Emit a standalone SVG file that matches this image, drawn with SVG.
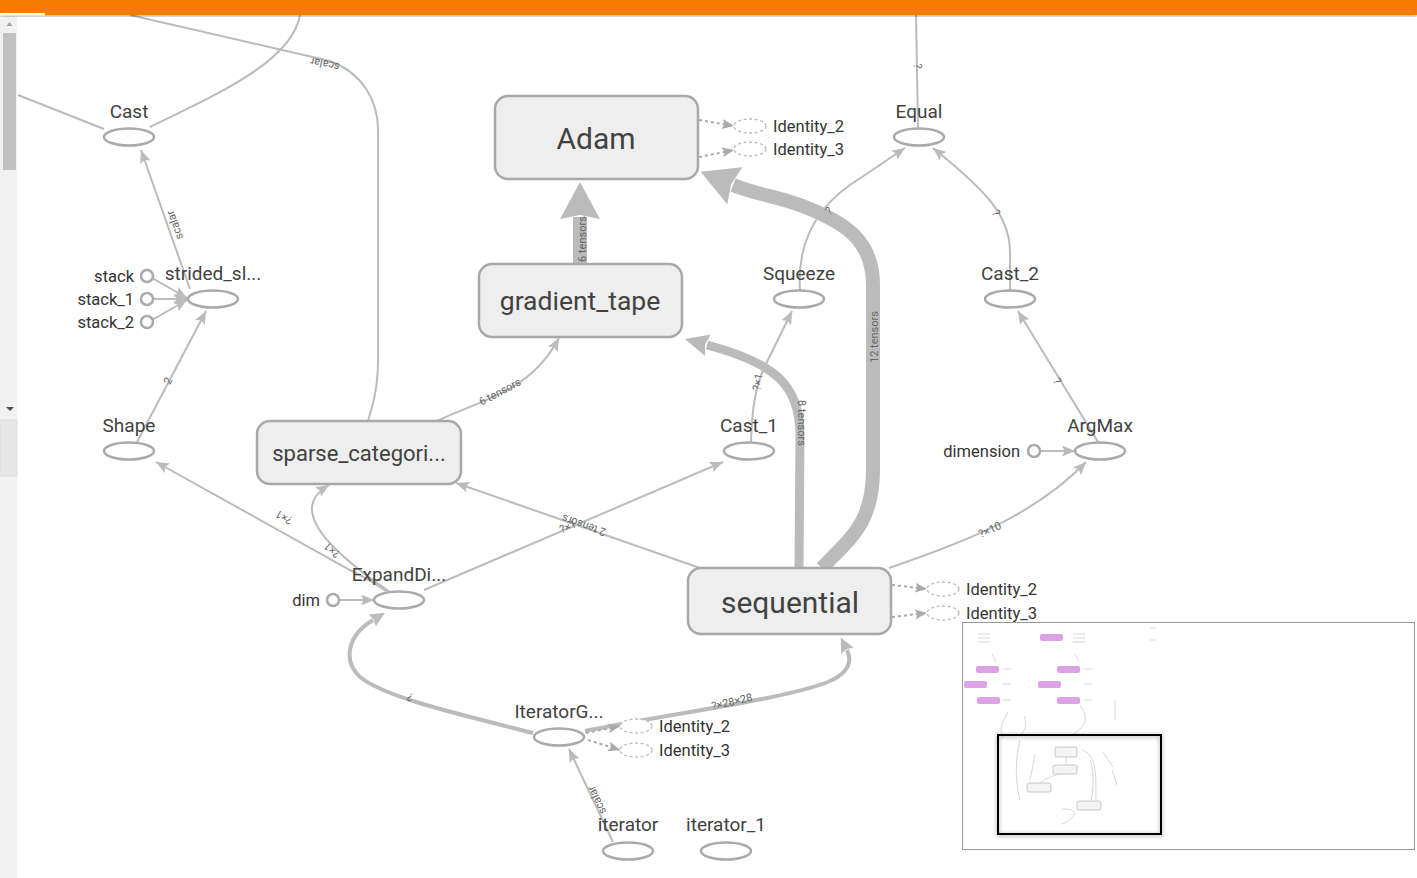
<svg xmlns="http://www.w3.org/2000/svg" width="1417" height="878" viewBox="0 0 1417 878">
<style>
.lbl{font-family:Roboto,"Liberation Sans",sans-serif;font-size:19px;fill:#424242;text-anchor:middle}
.sm{font-family:Roboto,"Liberation Sans",sans-serif;font-size:16.5px;fill:#333}
.el{font-family:Roboto,"Liberation Sans",sans-serif;font-size:11px;fill:#666;text-anchor:middle;dominant-baseline:central}
.big{font-family:Roboto,"Liberation Sans",sans-serif;fill:#424242;text-anchor:middle;dominant-baseline:central}
.op{fill:#fff;stroke:#aaa;stroke-width:2.5}
.cst{fill:#fff;stroke:#aaa;stroke-width:2.5}
.box{fill:#eee;stroke:#a8a8a8;stroke-width:2.5}
.dash{fill:#fff;stroke:#bbb;stroke-width:1.3;stroke-dasharray:3,2.5}
.e{fill:none;stroke:#bbb;stroke-width:2}
.em{fill:none;stroke:#bbb;stroke-width:4}
.de{fill:none;stroke:#aaa;stroke-width:2;stroke-dasharray:3,3}
</style>
<defs>
<marker id="a" viewBox="0 0 13 11" refX="13" refY="5.5" markerWidth="13" markerHeight="11" markerUnits="userSpaceOnUse" orient="auto"><path d="M0,0 L13,5.5 L0,11 L2.5,5.5 z" fill="#bbb"/></marker>
<marker id="ad" viewBox="0 0 12 10" refX="12" refY="5" markerWidth="12" markerHeight="10" markerUnits="userSpaceOnUse" orient="auto"><path d="M0,0 L12,5 L0,10 L2.5,5 z" fill="#aaa"/></marker>
<marker id="am" viewBox="0 0 15 14" refX="1" refY="7" markerWidth="15" markerHeight="14" markerUnits="userSpaceOnUse" orient="auto"><path d="M0,0 L15,7 L0,14 L2,7 z" fill="#bbb"/></marker>
<marker id="a8" viewBox="0 0 24 22" refX="1" refY="11" markerWidth="24" markerHeight="22" markerUnits="userSpaceOnUse" orient="auto"><path d="M0,0 L24,11 L0,22 L3,11 z" fill="#bbb"/></marker>
<marker id="a12" viewBox="0 0 37 40" refX="2" refY="20" markerWidth="37" markerHeight="40" markerUnits="userSpaceOnUse" orient="auto"><path d="M0,0 L37,20 L0,40 L4,20 z" fill="#bbb"/></marker>
<filter id="sh" x="-10%" y="-10%" width="120%" height="120%"><feDropShadow dx="0" dy="1" stdDeviation="2" flood-color="#000" flood-opacity="0.4"/></filter>
</defs>
<rect width="1417" height="878" fill="#fff"/>

<g id="connectors">
<path class="e" d="M18,95 L104,129"/>
<path class="e" d="M300,15 C292,62 215,95 150,127"/>
<path class="e" d="M130,15 L330,61 C362,73 378,100 378,130 L378,360 C378,392 371,410 368,421"/>
<path class="e" d="M916,15 L918,128"/>
<path class="e" marker-end="url(#a)" d="M190,289 L141,150"/>
<path class="e" marker-end="url(#a)" d="M152,278 L187,298"/>
<path class="e" marker-end="url(#a)" d="M153,299 L187,299"/>
<path class="e" marker-end="url(#a)" d="M152,320 L187,300"/>
<path class="e" marker-end="url(#a)" d="M137,442 L206,311"/>
<path class="e" marker-end="url(#a)" d="M386,591 C370,580 360,575 350,570 L156,462"/>
<path class="e" marker-end="url(#a)" d="M390,592 C352,566 310,533 312,507 C313,498 318,492 329,485"/>
<path class="e" marker-end="url(#a)" d="M437,421 C485,398 530,392 559,338"/>
<path class="e" marker-end="url(#a)" d="M424,590 L723,462"/>
<path class="e" marker-end="url(#a)" d="M700,568 L456,483"/>
<path class="e" marker-end="url(#a)" d="M751,442 C752,410 755,388 764,368 L792,311"/>
<path class="e" marker-end="url(#a)" d="M800,290 C797,245 815,205 862,177 L905,148"/>
<path class="e" marker-end="url(#a)" d="M1010,290 L1010,252 C1010,215 985,190 933,148"/>
<path class="e" marker-end="url(#a)" d="M1098,442 L1018,311"/>
<path class="e" marker-end="url(#a)" d="M889,568 C965,542 1035,515 1086,462"/>
<path class="e" marker-end="url(#a)" d="M1040,451 L1075,451"/>
<path class="e" marker-end="url(#a)" d="M339,600 L374,600"/>
<path class="e" marker-end="url(#a)" d="M613,842 L569,749"/>
<path class="em" marker-end="url(#am)" d="M533,733 C450,712 385,697 360,677 C342,660 348,635 373,620"/>
<path class="em" marker-end="url(#am)" d="M585,731 C680,712 780,700 828,682 C850,673 852,660 847,650"/>
<path fill="none" stroke="#bbb" stroke-width="9" marker-end="url(#a8)" d="M799,568 L800,435 C800,385 775,363 707,345"/>
<path fill="none" stroke="#bbb" stroke-width="14" marker-end="url(#a12)" d="M822,568 C848,540 873,525 873,470 L873,285 C873,240 845,222 800,205 C775,196 755,194 733,185"/>
<path fill="none" stroke="#bbb" stroke-width="14" marker-end="url(#a12)" d="M580,264 L580,217"/>
<path class="de" marker-end="url(#ad)" d="M699,120 L734,126"/>
<path class="de" marker-end="url(#ad)" d="M699,157 L734,150"/>
<path class="de" marker-end="url(#ad)" d="M892,585 L927,589"/>
<path class="de" marker-end="url(#ad)" d="M892,617 L927,613"/>
<path class="de" marker-end="url(#ad)" d="M586,733 L620,726"/>
<path class="de" marker-end="url(#ad)" d="M588,740 L620,750"/>
<text class="el" transform="translate(325,64) rotate(192.6)">scalar</text>
<text class="el" transform="translate(175,225) rotate(250.6)">scalar</text>
<text class="el" transform="translate(168,381) rotate(-62)">2</text>
<text class="el" transform="translate(284,517) rotate(209.7)">?×1</text>
<text class="el" transform="translate(332,550) rotate(220)">?×1</text>
<text class="el" transform="translate(500,392) rotate(-28)">6 tensors</text>
<text class="el" transform="translate(584,525) rotate(199)">2 tensors</text>
<text class="el" transform="translate(568,527) rotate(-23)">?×1</text>
<text class="el" transform="translate(410,697) rotate(200)">?</text>
<text class="el" transform="translate(732,702) rotate(-13)">?×28×28</text>
<text class="el" transform="translate(597,800) rotate(245)">scalar</text>
<text class="el" transform="translate(582,239) rotate(-90)" fill="#777">6 tensors</text>
<text class="el" transform="translate(801,423) rotate(90)">8 tensors</text>
<text class="el" transform="translate(874,337) rotate(-90)">12 tensors</text>
<text class="el" transform="translate(758,382) rotate(-80)">?×1</text>
<text class="el" transform="translate(829,211) rotate(-40)">?</text>
<text class="el" transform="translate(996,213) rotate(60)">?</text>
<text class="el" transform="translate(1057,381) rotate(60)">?</text>
<text class="el" transform="translate(990,530) rotate(-25)">?×10</text>
<text class="el" transform="translate(917,66) rotate(90)">?</text>
</g>

<g id="node-Cast"><ellipse class="op" cx="129" cy="137" rx="25" ry="8.5"/><text class="lbl" x="129" y="118">Cast</text></g>
<g id="node-strided_slice"><ellipse class="op" cx="213" cy="299" rx="25" ry="8.5"/><text class="lbl" x="213" y="280">strided_sl...</text></g>
<g id="node-stack"><circle class="cst" cx="147" cy="276" r="6"/><text class="sm" x="134" y="282" text-anchor="end">stack</text></g>
<g id="node-stack_1"><circle class="cst" cx="147" cy="299" r="6"/><text class="sm" x="134" y="305" text-anchor="end">stack_1</text></g>
<g id="node-stack_2"><circle class="cst" cx="147" cy="322" r="6"/><text class="sm" x="134" y="328" text-anchor="end">stack_2</text></g>
<g id="node-Shape"><ellipse class="op" cx="129" cy="451" rx="25" ry="8.5"/><text class="lbl" x="129" y="432">Shape</text></g>
<g id="node-sparse"><rect class="box" x="257" y="421" width="204" height="63" rx="13"/><text class="big" x="359" y="453" font-size="22">sparse_categori...</text></g>
<g id="node-ExpandDims"><ellipse class="op" cx="399" cy="600" rx="25" ry="8.5"/><text class="lbl" x="399" y="581">ExpandDi...</text></g>
<g id="node-dim"><circle class="cst" cx="333" cy="600" r="6"/><text class="sm" x="320" y="606" text-anchor="end">dim</text></g>
<g id="node-Adam"><rect class="box" x="495" y="96" width="203" height="83" rx="13"/><text class="big" x="596" y="138" font-size="30">Adam</text></g>
<g id="node-Adam-Identity_2"><ellipse class="dash" cx="750" cy="126" rx="16" ry="7"/><text class="sm" x="773" y="132">Identity_2</text></g>
<g id="node-Adam-Identity_3"><ellipse class="dash" cx="750" cy="149" rx="16" ry="7"/><text class="sm" x="773" y="155">Identity_3</text></g>
<g id="node-gradient_tape"><rect class="box" x="479" y="264" width="203" height="73" rx="13"/><text class="big" x="580" y="300" font-size="26.5">gradient_tape</text></g>
<g id="node-Squeeze"><ellipse class="op" cx="799" cy="299" rx="25" ry="8.5"/><text class="lbl" x="799" y="280">Squeeze</text></g>
<g id="node-Equal"><ellipse class="op" cx="919" cy="137" rx="25" ry="8.5"/><text class="lbl" x="919" y="118">Equal</text></g>
<g id="node-Cast_2"><ellipse class="op" cx="1010" cy="299" rx="25" ry="8.5"/><text class="lbl" x="1010" y="280">Cast_2</text></g>
<g id="node-Cast_1"><ellipse class="op" cx="749" cy="451" rx="25" ry="8.5"/><text class="lbl" x="749" y="432">Cast_1</text></g>
<g id="node-ArgMax"><ellipse class="op" cx="1100" cy="451" rx="25" ry="8.5"/><text class="lbl" x="1100" y="432">ArgMax</text></g>
<g id="node-dimension"><circle class="cst" cx="1034" cy="451" r="6"/><text class="sm" x="1020" y="457" text-anchor="end">dimension</text></g>
<g id="node-sequential"><rect class="box" x="688" y="568" width="203" height="66" rx="13"/><text class="big" x="790" y="602" font-size="30">sequential</text></g>
<g id="node-seq-Identity_2"><ellipse class="dash" cx="943" cy="589" rx="16" ry="7"/><text class="sm" x="966" y="595">Identity_2</text></g>
<g id="node-seq-Identity_3"><ellipse class="dash" cx="943" cy="613" rx="16" ry="7"/><text class="sm" x="966" y="619">Identity_3</text></g>
<g id="node-IteratorGetNext"><ellipse class="op" cx="559" cy="737" rx="25" ry="8.5"/><text class="lbl" x="559" y="718">IteratorG...</text></g>
<g id="node-it-Identity_2"><ellipse class="dash" cx="636" cy="726" rx="16" ry="7"/><text class="sm" x="659" y="732">Identity_2</text></g>
<g id="node-it-Identity_3"><ellipse class="dash" cx="636" cy="750" rx="16" ry="7"/><text class="sm" x="659" y="756">Identity_3</text></g>
<g id="node-iterator"><ellipse class="op" cx="628" cy="851" rx="25" ry="8.5"/><text class="lbl" x="628" y="831">iterator</text></g>
<g id="node-iterator_1"><ellipse class="op" cx="726" cy="851" rx="25" ry="8.5"/><text class="lbl" x="726" y="831">iterator_1</text></g>

<g id="minimap">
<rect x="962.5" y="622.5" width="452" height="227" fill="#fff" stroke="#999" stroke-width="1"/>
<g fill="#dba3e3">
<rect x="1040" y="634" width="23" height="7" rx="2"/>
<rect x="976" y="666" width="23" height="7" rx="2"/>
<rect x="1057" y="666" width="23" height="7" rx="2"/>
<rect x="964" y="681" width="23" height="7" rx="2"/>
<rect x="1038" y="681" width="23" height="7" rx="2"/>
<rect x="977" y="697" width="23" height="7" rx="2"/>
<rect x="1057" y="697" width="23" height="7" rx="2"/>
</g>
<g fill="none" stroke="#ccc" stroke-width="0.8">
<path d="M978,634 h12 M978,638 h12 M978,642 h12 M1073,634 h12 M1073,638 h12 M1073,642 h12 M1150,628 h6 M1150,640 h6"/>
<path d="M1003,669 h8 M1003,684 h8 M1003,700 h8 M1084,669 h8 M1084,684 h8 M1084,700 h8 M992,654 l4,8 M1075,654 l4,8"/>
<path d="M1008,712 c-5,10 -10,15 -5,25 M1024,716 c4,10 0,15 -4,20 M1080,705 c8,12 8,20 -8,30 M1115,700 v20"/>
</g>
<g fill="#f4f4f4" stroke="#bbb" stroke-width="0.8">
<rect x="1055" y="747" width="22" height="10" rx="2"/>
<rect x="1053" y="765" width="24" height="9" rx="2"/>
<rect x="1027" y="783" width="24" height="9" rx="2"/>
<rect x="1077" y="801" width="24" height="9" rx="2"/>
</g>
<g fill="none" stroke="#ccc" stroke-width="0.8">
<path d="M1066,757 v8 M1082,750 c14,5 14,20 14,50 M1090,760 c4,10 4,30 1,40 M1040,783 c10,-8 20,-8 20,-10 M1062,809 c20,0 12,10 0,15 M1020,740 c-5,20 -5,40 0,60 M1035,755 l-5,25 M1103,752 l10,15 M1112,770 l5,15"/>
</g>
<rect x="998" y="735" width="163" height="99" fill="none" stroke="#000" stroke-width="2" filter="url(#sh)"/>
</g>

<g id="chrome">
<rect x="0" y="16" width="17" height="862" fill="#f1f1f1"/>
<rect x="0" y="420" width="17" height="56" fill="#e6e6e6" stroke="#d6d6d6" stroke-width="0.8"/>
<rect x="3" y="33" width="13" height="137" fill="#c1c1c1"/>
<path d="M6.5,26 L9.5,22 L12.5,26 z" fill="#a3a3a3"/>
<path d="M6,407 L10,411 L14,407 z" fill="#505050"/>
<rect x="0" y="0" width="1417" height="15" fill="#f57c00" filter="url(#sh)"/>
<rect x="0" y="13" width="45" height="2.5" fill="#fff"/>
</g>
</svg>
